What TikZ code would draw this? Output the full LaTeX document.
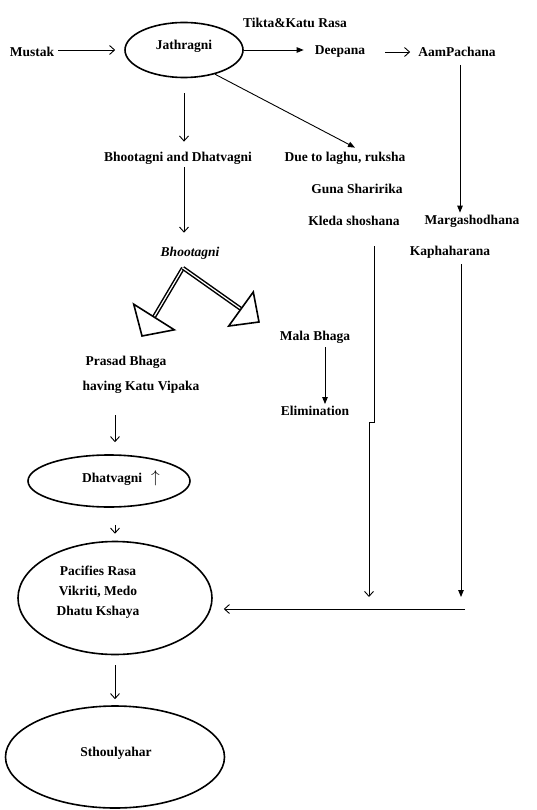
\documentclass[tikz,border=0pt]{standalone}
\usepackage{fontspec}
\setmainfont{Liberation Serif}
\usetikzlibrary{arrows.meta,shapes.geometric,calc}
\tikzset{
  txt/.style={font=\fontsize{13.5}{20}\selectfont\bfseries, inner sep=2pt, align=center},
  ell/.style={draw, ellipse, line width=1.6pt, inner sep=0pt},
  arr/.style={line width=0.9pt, -{Straight Barb[length=5pt,width=9pt]}},
  arrf/.style={line width=0.9pt, -{Triangle[length=7pt,width=5.5pt]}},
  dbl/.style={double=white, double distance=1.2pt, line width=1.5pt},
  headst/.style={line width=1.6pt, fill=white, line join=miter},
}
\begin{document}
\begin{tikzpicture}[x=1pt,y=-1pt]
\useasboundingbox (0,0) rectangle (537,810);
% nodes
\node[txt] (mustak) at (32,52) {Mustak};
\node[ell, minimum width=118pt, minimum height=55pt] (jath) at (184,50) {};
\node[txt] (jatht) at (184,46) {Jathragni};
\node[txt] (tikta) at (295,23) {Tikta\&Katu Rasa};
\node[txt] (deep) at (340,52) {Deepana};
\node[txt] (aam) at (457,52) {AamPachana};
\node[txt] (bd) at (178,158) {Bhootagni and Dhatvagni};
\node[txt] (due) at (345,158) {Due to laghu, ruksha};
\node[txt] (guna) at (357,189) {Guna Sharirika};
\node[txt] (kleda) at (354,221) {Kleda shoshana};
\node[txt] (marg) at (472,221) {Margashodhana};
\node[txt, font=\fontsize{13.5}{20}\selectfont\bfseries\itshape] (bhoot) at (190,253) {Bhootagni};
\node[txt] (kapha) at (450,252) {Kaphaharana};
\node[txt] (mala) at (315,337) {Mala Bhaga};
\node[txt] (elim) at (315,411) {Elimination};
\node[txt] (prasad) at (126,362) {Prasad Bhaga};
\node[txt] (katu) at (141,387) {having Katu Vipaka};
\node[ell, minimum width=162pt, minimum height=52pt] (dhat) at (109,481) {};
\node[txt] (dhatt) at (121,478) {Dhatvagni\hspace{9pt}{\fontsize{19}{19}\selectfont$\uparrow$}};
\node[ell, minimum width=194pt, minimum height=113pt] (pac) at (115,598) {};
\node[txt] (pact) at (98,592) {Pacifies Rasa\\Vikriti, Medo\\Dhatu Kshaya};
\node[ell, minimum width=219pt, minimum height=102pt] (sth) at (115,757) {};
\node[txt] (stht) at (116,753) {Sthoulyahar};
% coordinates
\coordinate (peak) at (183,268);
\coordinate (lbase) at (154,317);
\coordinate (ltip) at (142,336);
\coordinate (rbase) at (241,309);
\coordinate (rtip) at (259,322);
\coordinate (k1) at (374,246);
\coordinate (k2) at (374,422);
\coordinate (k3) at (369,422);
\coordinate (k4) at (369,597);
\coordinate (p1) at (461,264);
\coordinate (p2) at (461,597);
\coordinate (h1) at (465,609);
\coordinate (vx) at (115,0);
% connectors
\draw[arr, shorten <=2pt] (mustak.east |- jath.west) -- ([xshift=-9pt]jath.west);
\draw[arrf] (jath.east) -- ([xshift=-9pt]deep.west |- jath.east);
\draw[arr, shorten <=18pt, shorten >=6pt] (deep.east) -- (aam.west);
\draw[arrf, shorten <=6pt] (aam.south -| 460,0) -- (marg.north -| 460,0);
\draw[arr, shorten <=15pt, shorten >=8pt] (jath.south) -- (bd.north -| jath.south);
\draw[arrf] (jath.-38) -- ([xshift=10pt,yshift=2pt]due.north);
\draw[arr, shorten <=1pt, shorten >=12pt] (bd.south -| jath.south) -- (bhoot.north -| jath.south);
\draw[dbl] (peak) -- (lbase);
\draw[dbl] (peak) -- (rbase);
\draw[headst] ($(lbase)!24pt!90:(ltip)$) -- (ltip) -- ($(lbase)!24pt!-90:(ltip)$) -- cycle;
\draw[headst] ($(rbase)!21pt!90:(rtip)$) -- (rtip) -- ($(rbase)!21pt!-90:(rtip)$) -- cycle;
\draw[arrf, shorten <=2pt] (mala.south -| 325,0) -- (elim.north -| 325,0);
\draw[line width=0.9pt] (k1) -- (k2) -- (k3);
\draw[arr] (k3) -- (k4);
\draw[arrf] (p1) -- (p2);
\draw[arr] (h1) -- ([xshift=11pt]pac.east |- h1);
\draw[arr, shorten <=20pt, shorten >=12pt] (katu.south -| vx) -- (dhat.north -| vx);
\draw[arr, shorten <=17pt, shorten >=7pt] (dhat.south -| vx) -- (pac.north -| vx);
\draw[arr, shorten <=10pt, shorten >=6pt] (pac.south -| vx) -- (sth.north -| vx);
\end{tikzpicture}
\end{document}
